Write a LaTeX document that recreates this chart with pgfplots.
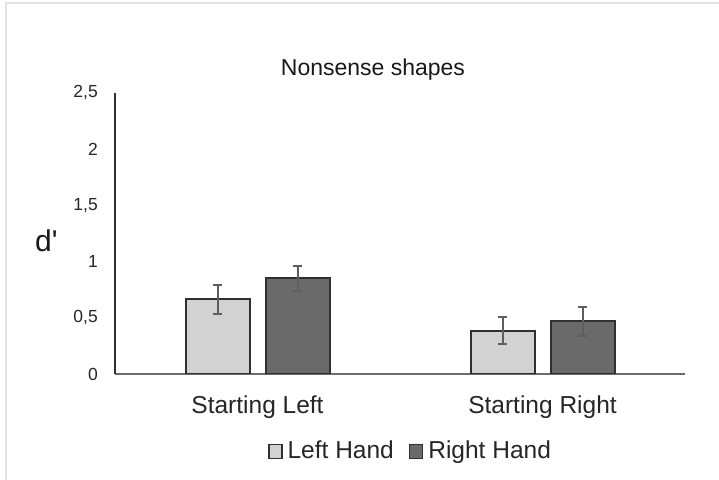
\documentclass[border=0pt]{standalone}
\usepackage{fontspec}
\setmainfont{Liberation Sans}
\usepackage{pgfplots}
\pgfplotsset{compat=1.18}
\definecolor{lightbar}{HTML}{D2D2D2}
\definecolor{darkbar}{HTML}{6A6A6A}
\definecolor{edge}{HTML}{303030}
\definecolor{errc}{HTML}{5E5E5E}
\definecolor{frame}{HTML}{E2E2E2}
\begin{document}
\begin{tikzpicture}
\useasboundingbox (0,0) rectangle (719bp,480bp);
\fill[white] (0,0) rectangle (719bp,480bp);
\draw[frame, line width=2.5bp] (6bp,0) -- (6bp,477bp) -- (719bp,477bp);
\begin{axis}[
  at={(115bp,106bp)}, anchor=south west,
  scale only axis, width=570bp, height=281bp,
  xmin=-0.5, xmax=1.5, ymin=0, ymax=2.5,
  ybar=16bp, bar width=64bp,
  axis x line*=bottom, axis y line*=left,
  x axis line style={-, draw=gray!85!black, line width=2bp},
  y axis line style={-, draw=edge, line width=1.5bp},
  major tick length=0pt,
  xtick={0,1}, xticklabels={Starting Left, Starting Right},
  ytick={0,0.5,1,1.5,2,2.5},
  yticklabels={0,{0,5},1,{1,5},2,{2,5}},
  x tick label style={font=\fontsize{24.5bp}{28bp}\selectfont, text=black!85, anchor=base, yshift=-39.3bp, inner sep=0pt},
  y tick label style={font=\fontsize{17.5bp}{20bp}\selectfont, text=black!85, anchor=east, inner sep=0pt, xshift=-17bp},
  title={Nonsense shapes},
  title style={font=\fontsize{23bp}{27bp}\selectfont, text=black!90, at={(rel axis cs:0.4526,1.040)}, anchor=base, inner sep=0pt},
  ylabel={d\textquotesingle},
  every axis y label/.style={at={(rel axis cs:-0.1404,0.435)}, anchor=base west, inner sep=0pt, font=\fontsize{30bp}{34bp}\selectfont, text=black!90},
  legend columns=2,
  legend style={draw=none, fill=none, at={(rel axis cs:0.5167,-0.272)}, anchor=center,
    font=\fontsize{24.5bp}{28bp}\selectfont, text=black!85,
    nodes={inner sep=0pt},
    /tikz/every odd column/.append style={column sep=5bp},
    /tikz/every even column/.append style={column sep=15bp}},
  legend image code/.code={\draw[#1, line width=1.5bp] (0bp,-8bp) rectangle (13bp,6bp);},
  error bars/y dir=both, error bars/y explicit,
  error bars/error bar style={errc, line width=2bp},
  error bars/error mark options={rotate=90, errc, mark size=4.5bp, line width=2bp},
]
\addplot[fill=lightbar, draw=edge, line width=2bp] coordinates {(0,0.665) +- (0,0.13) (1,0.385) +- (0,0.12)};
\addplot[fill=darkbar, draw=edge, line width=2bp] coordinates {(0,0.851) +- (0,0.11) (1,0.47) +- (0,0.13)};
\legend{Left Hand, Right Hand}
\end{axis}
\end{tikzpicture}
\end{document}
